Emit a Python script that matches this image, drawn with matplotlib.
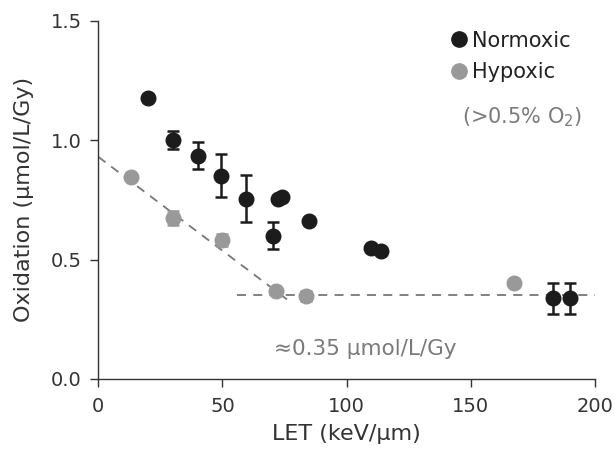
import numpy as np
import matplotlib
matplotlib.use("Agg")
import matplotlib.pyplot as plt
from matplotlib.lines import Line2D

plt.rcParams['font.family'] = ['DejaVu Sans']

# Normoxic data (LET keV/um, oxidation umol/L/Gy, error)
norm_let = [20, 30, 40, 49.5, 59.5, 70.5, 72.5, 74, 85, 110, 114, 183, 190]
norm_ox = [1.175, 1.00, 0.935, 0.85, 0.755, 0.60, 0.755, 0.763, 0.66, 0.55, 0.537, 0.338, 0.338]
norm_err = [0, 0.038, 0.057, 0.09, 0.099, 0.055, 0, 0, 0, 0, 0, 0.065, 0.065]

# Hypoxic data
hyp_let = [13, 30, 50, 71.5, 83.5, 167.5]
hyp_ox = [0.847, 0.675, 0.58, 0.37, 0.348, 0.40]
hyp_err = [0, 0.03, 0.025, 0, 0.02, 0]

# dashed guide lines
slope_x = [0, 77]
slope_y = [0.93, 0.325]
plateau_x = [56, 200]
plateau_y = [0.35, 0.35]

black = '#1c1c1c'
grey = '#999999'
txtgrey = '#7a7a7a'

fig = plt.figure(figsize=(6.14, 4.49), dpi=100)
ax = fig.add_axes([0.160, 0.156, 0.809, 0.798])

ax.plot(slope_x, slope_y, '--', color='#777777', lw=1.3, dashes=(5, 4), zorder=1)
ax.plot(plateau_x, plateau_y, '--', color='#777777', lw=1.3, dashes=(5, 4), zorder=1, clip_on=False)

ax.errorbar(hyp_let, hyp_ox, yerr=hyp_err, fmt='o', ms=10.5, color=grey, ecolor=grey,
            capsize=4, elinewidth=1.8, capthick=1.8, zorder=2)
ax.errorbar(norm_let, norm_ox, yerr=norm_err, fmt='o', ms=10.5, color=black, ecolor=black,
            capsize=4, elinewidth=1.8, capthick=1.8, zorder=3)

ax.set_xlim(0, 200)
ax.set_ylim(0, 1.5)
ax.set_xticks([0, 50, 100, 150, 200])
ax.set_yticks([0, 0.5, 1.0, 1.5])
ax.set_yticklabels(['0.0', '0.5', '1.0', '1.5'])
for s in ['top', 'right']:
    ax.spines[s].set_visible(False)
for s in ['left', 'bottom']:
    ax.spines[s].set_color('#333333')
    ax.spines[s].set_linewidth(1.0)
ax.tick_params(direction='out', length=6, width=1.0, labelsize=14, colors='#333333')
ax.tick_params(axis='x', pad=7)
ax.tick_params(axis='y', pad=6)
ax.set_xlabel('LET (keV/µm)', fontsize=16, color='#333333', labelpad=6)
ax.set_ylabel('Oxidation (µmol/L/Gy)', fontsize=16, color='#333333', labelpad=12)

handles = [Line2D([], [], marker='o', ls='none', ms=11, color=black),
           Line2D([], [], marker='o', ls='none', ms=11, color=grey)]
leg = ax.legend(handles, ['Normoxic', 'Hypoxic'], loc='upper left',
                bbox_to_anchor=(0.72, 0.955), bbox_transform=fig.transFigure,
                frameon=False, fontsize=15, handlelength=0.6, handletextpad=0.35,
                labelspacing=0.55, borderpad=0)
for t in leg.get_texts():
    t.set_color('#222222')

ax.text(146.5, 1.097, '(>0.5% O$_2$)', color=txtgrey, fontsize=15, ha='left', va='center')
ax.text(70.8, 0.126, '≈0.35 µmol/L/Gy', color=txtgrey, fontsize=15.5, ha='left', va='center')

fig.savefig('out.png', dpi=100)
